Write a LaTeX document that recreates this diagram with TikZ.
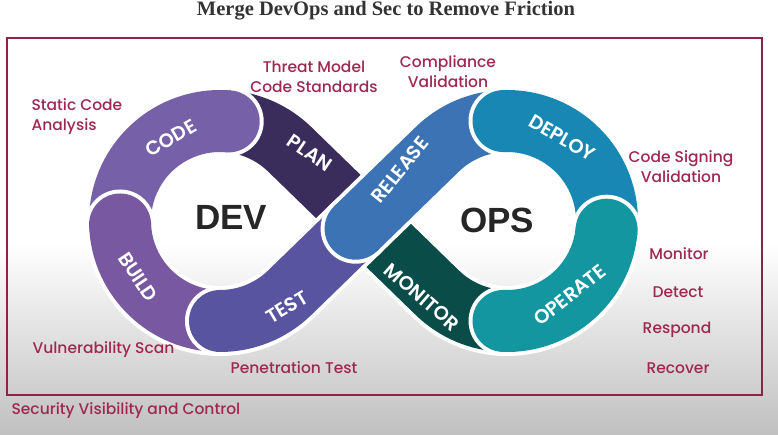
\documentclass[tikz,border=0pt]{standalone}
\usepackage{fontspec}
\setmainfont{Liberation Serif}
\newfontfamily\notefont{Poppins Medium}
\newfontfamily\stagefont{Poppins SemiBold}
\newfontfamily\bigfont{Liberation Sans}
\usetikzlibrary{calc}
\definecolor{maroon}{RGB}{158,40,80}
\definecolor{framecol}{RGB}{140,36,72}
\definecolor{bggray}{RGB}{192,192,192}
\definecolor{plancol}{RGB}{58,45,92}
\definecolor{codecol}{RGB}{118,96,168}
\definecolor{buildcol}{RGB}{120,88,160}
\definecolor{testcol}{RGB}{88,84,160}
\definecolor{releasecol}{RGB}{60,115,180}
\definecolor{deploycol}{RGB}{24,135,180}
\definecolor{operatecol}{RGB}{20,150,160}
\definecolor{monitorcol}{RGB}{10,76,72}
\tikzstyle{gapline} = [line width=70pt, white]
\tikzstyle{bandline} = [line width=62pt]
\tikzstyle{stage} = [text=white, font=\stagefont\fontsize{19.5}{19.5}\selectfont]
\tikzstyle{note} = [text=maroon, align=center, font=\notefont\fontsize{15.5}{20}\selectfont]
\tikzstyle{loopname} = [text=black!85, font=\bigfont\bfseries\fontsize{35}{35}\selectfont]
\newcommand{\band}[3]{%
  \draw[gapline] #2;
  \foreach \e in {#3} {\fill[white] (\e) circle (35pt);}
  \draw[bandline, #1] #2;
  \foreach \e in {#3} {\fill[#1] (\e) circle (31pt);}
}
\begin{document}
\begin{tikzpicture}[x=1pt,y=1pt]
    \useasboundingbox (0,0) rectangle (778,434);
    \fill[white] (0,0) rectangle (778,434);
    \shade[top color=white, bottom color=bggray] (0,0) rectangle (778,190);
    \node[font=\bfseries\fontsize{20.5}{20.5}\selectfont, text=black!80] (title) at (386,423) {Merge DevOps and Sec to Remove Friction};
    \draw[framecol, line width=2.5pt] (7,39) rectangle (762,396);
    % loop centres and crossing
    \coordinate (c1) at (220,213);
    \coordinate (c2) at (507,213);
    \coordinate (m) at (363.5,213);
    \coordinate (r0) at (355.6,205.3);
    \coordinate (codeS) at ($(c1)+(85:100pt)$);
    \coordinate (buildS) at ($(c1)+(182:100pt)$);
    \coordinate (testS) at ($(c1)+(270:100pt)$);
    \coordinate (deployS) at ($(c2)+(92:100pt)$);
    \coordinate (operateS) at ($(c2)+(-5:100pt)$);
    \coordinate (operateE) at ($(c2)+(-92:100pt)$);
    % lower strand
    \draw[gapline] (m) -- ($(c1)+(45.8:100pt)$) arc[start angle=45.8, end angle=85, radius=100pt];
    \draw[bandline, plancol] (m) -- ($(c1)+(45.8:100pt)$) arc[start angle=45.8, end angle=85, radius=100pt];
    \draw[gapline] (operateE) arc[start angle=-92, end angle=-134.2, radius=100pt] -- (m);
    \draw[bandline, monitorcol] (operateE) arc[start angle=-92, end angle=-134.2, radius=100pt] -- (m);
    % segments with round heads
    \band{codecol}{(codeS) arc[start angle=85, end angle=182, radius=100pt]}{codeS}
    \band{buildcol}{(buildS) arc[start angle=182, end angle=270, radius=100pt]}{buildS}
    \band{testcol}{(testS) arc[start angle=270, end angle=314.2, radius=100pt] -- (r0)}{testS}
    \band{releasecol}{(r0) -- ($(c2)+(134.2:100pt)$) arc[start angle=134.2, end angle=92, radius=100pt]}{r0}
    \band{deploycol}{(deployS) arc[start angle=92, end angle=-5, radius=100pt]}{deployS}
    \band{operatecol}{(operateS) arc[start angle=-5, end angle=-92, radius=100pt]}{operateS,operateE}
    % stage names
    \node[stage, rotate=30] (code) at (171,296) {CODE};
    \node[stage, rotate=-34] (plan) at (310,281) {PLAN};
    \node[stage, rotate=-56] (build) at (138,157) {BUILD};
    \node[stage, rotate=31] (test) at (287,127) {TEST};
    \node[stage, rotate=51] (release) at (400,264) {RELEASE};
    \node[stage, rotate=-30] (deploy) at (562,296) {DEPLOY};
    \node[stage, rotate=38] (operate) at (570,139) {OPERATE};
    \node[stage, rotate=-41] (monitor) at (422,137) {MONITOR};
    \node[loopname] (dev) at (231,217) {DEV};
    \node[loopname] (ops) at (497,214) {OPS};
    % security notes
    \node[note, align=left, anchor=west] (sast) at (28,317.5) {Static Code\\Analysis};
    \node[note] (threat) at (314,357) {Threat Model\\Code Standards};
    \node[note] (compliance) at (448,362.5) {Compliance\\Validation};
    \node[note] (signing) at (681,267.5) {Code Signing\\Validation};
    \node[note] (mon) at (679,180) {Monitor};
    \node[note] (detect) at (678,142) {Detect};
    \node[note] (respond) at (677,104) {Respond};
    \node[note] (recover) at (678,66) {Recover};
    \node[note] (vuln) at (103.5,84) {Vulnerability Scan};
    \node[note] (pentest) at (294,66) {Penetration Test};
    \node[note, anchor=west] (visibility) at (8,23) {Security Visibility and Control};
\end{tikzpicture}
\end{document}
